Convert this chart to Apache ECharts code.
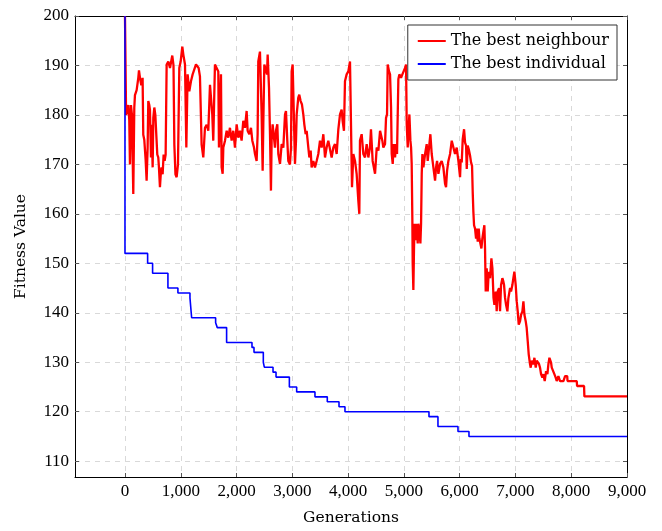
<!DOCTYPE html>
<html>
<head>
<meta charset="utf-8">
<script src="https://cdn.jsdelivr.net/npm/echarts@6/dist/echarts.min.js"></script>
<style>
  html, body { margin: 0; padding: 0; background: #fff; }
  #main { width: 662px; height: 531px; }
</style>
</head>
<body>
<div id="main"></div>
<script>
// data: [generation, fitness]
var neighbourName = 'The best neighbour';
var individualName = 'The best individual';

var bestNeighbour = [
  [0,200],[20,180],[30,180],[60,182],[77,179],[89,170],[107,182],[125,180],[149,164],[167,181.5],
  [179,184],[209,185],[239,187.5],[251,189],[269,187.5],[293,186],[316,187.5],[328,176],[346,175],[370,171],
  [388,166.7],[406,173.4],[418,182.8],[436,182],[448,181],[466,171.4],[478,178],[496,169.4],[508,179.4],[526,181.5],
  [544,180],[556,180],[579,172],[597,171.4],[609,169.4],[627,165.4],[645,168.7],[657,169.4],[675,168],[693,172],
  [711,170.7],[729,172],[747,190.2],[777,190.8],[807,189.5],[848,192],[870,190],[885,174],[905,168],[926,167.4],
  [950,170],[962,170],[974,189.5],[998,190.8],[1028,193.8],[1046,192.2],[1076,190.2],[1100,173.4],[1123,188.2],[1153,184.8],
  [1183,186.8],[1213,188.2],[1273,190.2],[1320,189.5],[1344,187.8],[1374,174],[1404,171.4],[1434,177.4],
  [1464,178],[1494,176.8],[1524,186.1],[1542,183.5],[1565,180.1],[1583,174.8],[1613,190.2],[1643,190.2],[1673,188.8],[1685,173.4],
  [1721,188.2],[1733,169.4],[1751,168.1],[1763,173.4],[1793,174.8],[1823,176.8],[1852,175.4],[1882,177.4],[1912,174.8],[1942,176.8],
  [1972,173.4],[2002,178.1],[2032,175.4],[2062,176.8],[2091,174.8],[2121,178.8],[2151,177.4],[2181,180.8],[2199,176.8],[2229,176.1],
  [2259,177.4],[2283,174.8],[2313,173.4],[2331,172.1],[2360,170.7],[2378,176.1],[2390,190.8],[2420,192.8],[2450,180.1],[2468,168.7],
  [2480,178.1],[2498,190.2],[2528,190.2],[2546,188.2],[2558,192.2],[2582,185.5],[2600,176.1],[2617,164.7],[2629,174.8],[2647,178.1],
  [2671,175.4],[2689,173.4],[2707,176.8],[2731,178.1],[2749,172.1],[2779,170.1],[2809,174.1],[2839,173.4],[2869,180.1],[2886,180.8],
  [2910,174.8],[2928,170.7],[2958,170],
  [2976,173.4],[2988,188.8],[3006,190.2],[3030,190.2],[3048,170.1],[3066,174.8],[3078,180.1],[3107,183.5],[3125,184.1],[3149,182.8],
  [3173,182.1],[3197,180.1],[3215,178.1],[3239,176.1],[3257,176.8],[3287,173.4],[3305,171.4],[3329,172.8],[3346,169.4],[3376,170.7],
  [3406,169.4],[3436,170.7],[3466,172.1],[3496,174.8],[3526,173.4],[3556,176.1],[3586,171.4],[3615,173.4],[3645,174.8],[3675,174.8],
  [3705,171.4],[3735,173.4],[3765,174.1],[3795,172.1],[3825,177.1],[3855,180.1],[3884,181.1],[3902,178.8],[3926,176.8],[3944,186.8],
  [3974,188.2],[4004,188.8],[4034,190.8],[4064,191.2],[4070,165.4],[4094,172.1],[4124,170.7],[4153,168.1],[4183,162.7],[4201,160],
  [4213,174.8],[4243,176.1],[4273,172.1],[4303,171.4],[4333,174.1],[4363,171.4],[4392,173.4],[4410,177.1],[4440,170.7],[4483,168.1],
  [4513,173.4],[4543,172.8],[4573,176.8],[4603,177.1],[4614,174.8],[4632,173.4],[4662,174.1],[4680,179.4],[4698,180.1],[4710,190.2],
  [4734,188.8],[4752,188.2],[4770,181.5],[4782,172.1],[4800,170.1],[4818,174.1],[4842,171.4],[4860,174.1],[4877,172.1],[4901,187.2],
  [4919,188.2],[4949,187.5],[4973,188.2],[4997,188.2],[5021,189.5],[5039,190.2],[5051,178.1],[5069,173.4],[5081,176.8],[5099,180.1],
  [5117,174.8],[5129,173.4],[5140,170.1],[5152,158.7],[5158,150],[5170,144.6],[5182,153.4],[5194,158],[5212,154.7],[5230,158],
  [5248,154],[5260,158],[5278,156.7],[5296,154],[5308,158],[5320,168.1],[5332,172.1],[5350,169.4],[5380,172.1],[5409,174.1],
  [5427,170.7],[5451,173.4],[5475,176.1],[5499,172.1],[5529,169.4],[5559,166.7],[5577,169.4],[5595,170.7],[5619,168.1],[5649,170.1],
  [5678,170.7],[5708,169.4],[5738,166.1],[5756,165.4],[5774,168.7],[5798,170.7],[5828,172.1],[5858,174.8],[5888,173.4],[5917,172.1],
  [5947,173.4],[5977,170.7],[6007,167.4],
  [6019,171.1],[6037,170.4],[6055,175.1],[6079,177.1],[6097,174.4],[6115,173.8],[6127,169.1],[6144,173.8],[6162,173.1],[6186,171.8],
  [6204,170.4],[6222,169.7],[6234,164.4],[6246,160.4],[6258,157.7],[6276,157],[6294,155],[6306,157],[6324,154.4],[6342,157],
  [6354,155],[6378,155],[6390,153],[6407,155],[6425,156.4],[6443,157.7],[6455,153],[6467,144.3],[6485,149],[6503,144.3],
  [6521,148.3],[6545,147],[6569,151],[6587,149],[6607,143],[6623,141.6],[6647,144.3],[6664,140.3],[6682,144.3],[6706,145],
  [6724,140.3],[6742,145.6],[6766,147],[6784,146.3],[6796,145.6],[6814,143],[6832,141.6],[6856,140.3],[6874,143],[6904,145],
  [6921,144.3],[6945,145.6],[6963,147],[6981,148.3],[7005,145.6],[7023,142.3],[7041,140.3],[7059,137.6],[7083,138.3],[7101,139.6],
  [7125,140.3],[7143,142.3],[7161,139.6],[7184,138.3],[7201,137],[7220,134.3],[7238,131.6],[7262,129.6],[7274,128.9],[7292,130.3],
  [7322,129.6],[7340,130.9],[7364,128.9],[7382,130.3],[7400,130.3],[7424,129.6],[7441,128.9],[7459,127.6],[7483,126.9],[7501,127.6],
  [7525,126.2],
  [7549,128.2],[7573,127.6],[7591,129.6],[7609,130.9],[7621,131.3],[7639,129.9],[7651,128.9],[7680,128.6],[7698,127.6],[7722,126.9],
  [7740,126.2],[7770,127.2],[7800,126.2],[7860,126.2],[7890,127.2],[7928,127.2],[7934,126.2],[8099,126.2],[8105,125.2],[8230,125.2],
  [8236,123.1],[9000,123.1]
];

var bestIndividual = [
  [0,200],[0,152],[406,150],[495,148],[770,145],[949,144],[1165,143],[1195,139],[1625,138],[1655,137],
  [1822,134],[2277,133],[2313,132],[2480,130],[2498,129],[2654,128],[2708,127],[2947,125],[3078,124],[3406,123],
  [3627,122],[3837,121],[3944,120],[5450,119],[5611,117],[5970,116],[6167,115],[9000,115]
];

var xTicks = [0, 1000, 2000, 3000, 4000, 5000, 6000, 7000, 8000, 9000];
var yTicks = [110, 120, 130, 140, 150, 160, 170, 180, 190, 200];

var myChart = echarts.init(document.getElementById('main'));
var numFont = 'Liberation Serif';
var textFont = 'DejaVu Serif';

function frameAxis(pos, ticks, isX) {
  return {
    type: 'value',
    position: pos,
    min: isX ? -896 : 106.8,
    max: isX ? 9000 : 200,
    axisLine: { show: true, onZero: false, lineStyle: { color: '#000', width: 1 } },
    axisTick: { show: true, inside: true, length: 4, customValues: ticks, lineStyle: { color: '#555' } },
    axisLabel: { show: false },
    splitLine: { show: false }
  };
}

var option = {
  animation: false,
  backgroundColor: '#fff',
  grid: { left: 75, right: 35, top: 16, bottom: 51, containLabel: false },
  legend: {
    right: 45,
    top: 25,
    orient: 'vertical',
    backgroundColor: '#fff',
    borderColor: '#333',
    borderWidth: 1,
    padding: [8, 8, 8, 10],
    itemGap: 7,
    itemWidth: 28,
    itemHeight: 2,
    icon: 'rect',
    textStyle: { fontFamily: textFont, fontSize: 16, color: '#000' },
    data: [neighbourName, individualName]
  },
  xAxis: [
    {
      type: 'value',
      position: 'bottom',
      min: -896,
      max: 9000,
      name: 'Generations',
      nameLocation: 'middle',
      nameGap: 33,
      nameTextStyle: { fontFamily: textFont, fontSize: 15.5, color: '#000' },
      axisLine: { show: true, onZero: false, lineStyle: { color: '#000', width: 1 } },
      axisTick: { show: true, inside: true, length: 4, customValues: xTicks, lineStyle: { color: '#555' } },
      axisLabel: {
        customValues: xTicks,
        margin: 6,
        fontFamily: numFont,
        fontSize: 17,
        color: '#000',
        formatter: function (v) { return v.toLocaleString('en-US'); }
      },
      splitLine: { show: true, lineStyle: { color: '#d9d9d9', type: [5, 5], width: 1 } }
    },
    frameAxis('top', xTicks, true)
  ],
  yAxis: [
    {
      type: 'value',
      position: 'left',
      min: 106.8,
      max: 200,
      name: 'Fitness Value',
      nameLocation: 'middle',
      nameGap: 46,
      nameTextStyle: { fontFamily: textFont, fontSize: 15.5, color: '#000' },
      axisLine: { show: true, onZero: false, lineStyle: { color: '#000', width: 1 } },
      axisTick: { show: true, inside: true, length: 4, customValues: yTicks, lineStyle: { color: '#555' } },
      axisLabel: { customValues: yTicks, margin: 6, fontFamily: numFont, fontSize: 17, color: '#000' },
      splitLine: { show: true, lineStyle: { color: '#d9d9d9', type: [5, 5], width: 1 } }
    },
    frameAxis('right', yTicks, false)
  ],
  series: [
    {
      name: neighbourName,
      type: 'line',
      data: bestNeighbour,
      showSymbol: false,
      lineStyle: { color: '#ff0000', width: 2.3 },
      itemStyle: { color: '#ff0000' }
    },
    {
      name: individualName,
      type: 'line',
      step: 'end',
      data: bestIndividual,
      showSymbol: false,
      lineStyle: { color: '#0000ff', width: 1.6 },
      itemStyle: { color: '#0000ff' }
    }
  ]
};
myChart.setOption(option);
</script>
</body>
</html>
